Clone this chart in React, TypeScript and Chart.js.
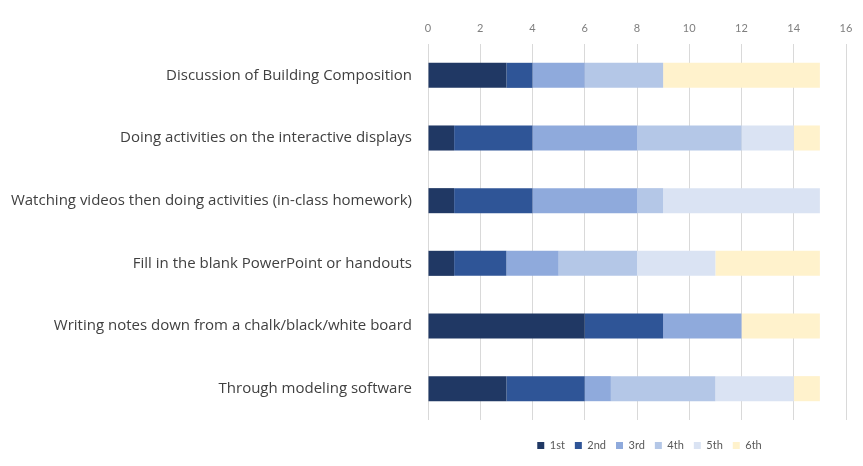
import React, { useEffect, useRef } from "react";
import { Chart, registerables } from "chart.js";

Chart.register(...registerables);

const categories = [
  "Discussion of Building Composition",
  "Doing activities on the interactive displays",
  "Watching videos then doing activities (in-class homework)",
  "Fill in the blank PowerPoint or handouts",
  "Writing notes down from a chalk/black/white board",
  "Through modeling software",
];

const seriesNames = ["1st", "2nd", "3rd", "4th", "5th", "6th"];

const first = [3, 1, 1, 1, 6, 3];
const second = [1, 3, 3, 2, 3, 3];
const third = [2, 4, 4, 2, 3, 1];
const fourth = [3, 4, 1, 3, 0, 4];
const fifth = [0, 2, 6, 3, 0, 3];
const sixth = [6, 1, 0, 4, 3, 1];

const seriesValues = [first, second, third, fourth, fifth, sixth];
const seriesColors = ["#203864", "#2f5597", "#8faadc", "#b4c7e7", "#dae3f3", "#fff2cc"];

const FONT = "Lato, 'Open Sans', sans-serif";
const LABEL_FONT = "'Open Sans', Lato, sans-serif";

const legendPos = {
  id: "legendPos",
  afterLayout(chart: any) {
    const l = chart.legend;
    if (!l) return;
    l.left = chart.chartArea.left;
    l.right = chart.width + 8;
    const h = l.height;
    l.top = 430;
    l.bottom = 430 + h;
  },
};

export default function App() {
  const ref = useRef<HTMLCanvasElement | null>(null);
  useEffect(() => {
    if (!ref.current) return;
    const chart = new Chart(ref.current, {
      type: "bar",
      data: {
        labels: categories,
        datasets: seriesNames.map((name, i) => ({
          label: name,
          data: seriesValues[i],
          backgroundColor: seriesColors[i],
          borderWidth: 0,
          barPercentage: 0.4,
          categoryPercentage: 1,
        })),
      },
      options: {
        indexAxis: "y",
        responsive: false,
        animation: false,
        devicePixelRatio: 1,
        layout: { padding: { left: 0, right: 17, top: 0, bottom: 15 } },
        plugins: {
          tooltip: { enabled: false },
          legend: {
            position: "bottom",
            labels: {
              boxWidth: 7,
              boxHeight: 7,
              padding: 10,
              color: "#595959",
              font: { family: FONT, size: 11 },
            },
          },
        },
        scales: {
          x: {
            position: "top",
            stacked: true,
            min: 0,
            max: 16,
            ticks: {
              stepSize: 2,
              padding: 9,
              color: "#7f7f7f",
              font: { family: FONT, size: 11 },
            },
            grid: { color: "#d9d9d9", drawTicks: false },
            border: { display: false },
            afterFit: (s: any) => {
              s.height = 44;
            },
          },
          y: {
            stacked: true,
            ticks: {
              padding: 16,
              color: "#404040",
              font: { family: LABEL_FONT, size: 15 },
            },
            grid: { display: false, drawTicks: false },
            border: { display: false },
            afterFit: (s: any) => {
              s.width = 428;
            },
          },
        },
      },
      plugins: [legendPos],
    });
    return () => chart.destroy();
  }, []);
  return (
    <div style={{ position: "fixed", left: 0, top: 0, width: 863, height: 466, background: "#fff" }}>
      <canvas ref={ref} width={863} height={466} />
    </div>
  );
}
